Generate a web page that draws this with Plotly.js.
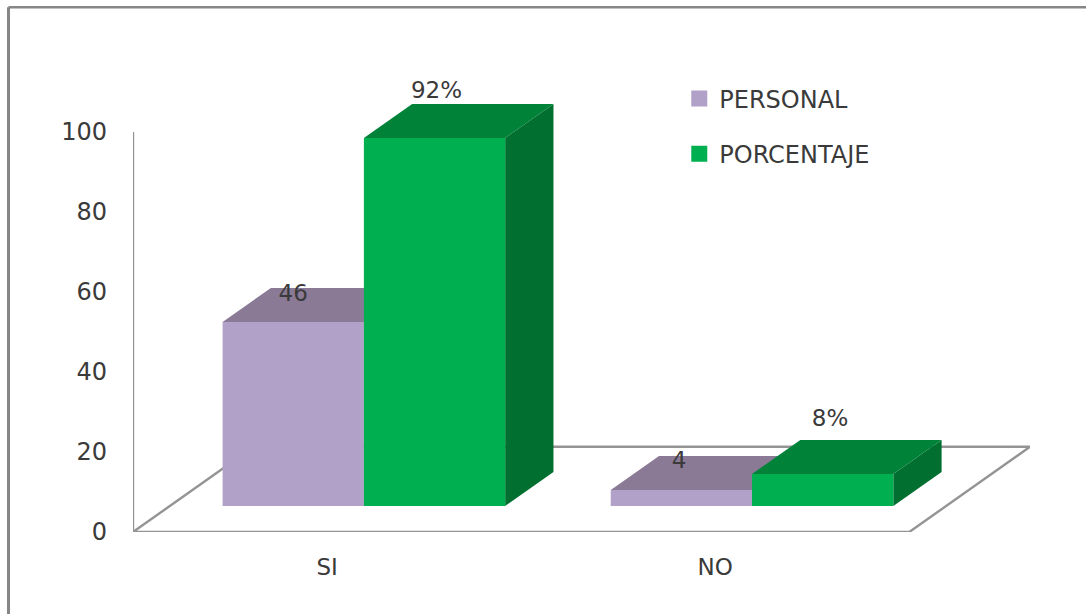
<!DOCTYPE html>
<html>
<head>
<meta charset="utf-8">
<script src="https://cdn.plot.ly/plotly-3.0.1.min.js"></script>
<style>html,body{margin:0;padding:0;background:#fff}</style>
</head>
<body>
<div id="chart" style="width:1086px;height:614px"></div>
<script>
// Survey results: head count and share for each answer
const categories = ['SI', 'NO'];
const categoryPositions = [0, 1];
const personal = [46, 4];
const porcentaje = [92, 8];
const yTicks = [0, 20, 40, 60, 80, 100];

const purple = {front: '#B1A0C7', top: '#8A7A96', side: '#776880'};
const green = {front: '#00B050', top: '#008239', side: '#006F2F'};
const textColor = '#3A3A3A';
const fontFamily = '"DejaVu Sans", sans-serif';

// Oblique projection: a point at depth d (0 front, 1 back of the floor)
// is shifted right and up from its position on the front plane.
const depthX = 0.311;
const depthY = 21.3;
const barDepthStart = 0.305;
const barDepthEnd = 0.705;
const barWidth = 0.364;
const project = (x, v, d) => [x + d * depthX, v + d * depthY];

function polygons(points) {
  const xs = [], ys = [];
  points.forEach(poly => {
    poly.forEach(p => { xs.push(p[0]); ys.push(p[1]); });
    xs.push(poly[0][0], null);
    ys.push(poly[0][1], null);
  });
  return {x: xs, y: ys};
}

function face(poly, color, z) {
  return Object.assign(polygons(poly), {
    type: 'scatter', mode: 'lines', fill: 'toself', fillcolor: color,
    line: {width: 0, color: color}, hoverinfo: 'skip', showlegend: false,
    xaxis: 'x', yaxis: 'y', zorder: z
  });
}

// One series: hidden depth faces first, the bar's front on top of them
function seriesTraces(values, side, colors, z) {
  const left = categoryPositions.map(c => c + (side === 0 ? -barWidth : 0));
  const tops = [], sides = [];
  values.forEach((v, i) => {
    const x0 = left[i], x1 = x0 + barWidth;
    tops.push([project(x0, v, barDepthEnd), project(x1, v, barDepthEnd),
               project(x1, v, barDepthStart), project(x0, v, barDepthStart)]);
    sides.push([project(x1, 0, barDepthStart), project(x1, 0, barDepthEnd),
                project(x1, v, barDepthEnd), project(x1, v, barDepthStart)]);
  });
  const shift = barDepthStart * depthY;
  return [
    face(sides, colors.side, z),
    face(tops, colors.top, z),
    {
      type: 'bar', x: left.map(l => l + barDepthStart * depthX), y: values,
      base: values.map(() => shift), width: values.map(() => barWidth),
      offset: values.map(() => 0), marker: {color: colors.front, line: {width: 0}},
      hoverinfo: 'skip', showlegend: false, zorder: z + 1
    }
  ];
}

// Floor outline and vertical axis
const floorX = [-0.5, -0.5 + depthX, 1.5 + depthX, 1.5, -0.5];
const floorY = [0, depthY, depthY, 0, 0];
const lineStyle = {color: '#949494', width: 2.4};
const floor = {
  type: 'scatter', mode: 'lines', x: floorX, y: floorY,
  line: lineStyle, hoverinfo: 'skip', showlegend: false, zorder: 0, cliponaxis: false
};
const axisLine = {
  type: 'scatter', mode: 'lines', x: [-0.5, -0.5], y: [0, yTicks[yTicks.length - 1]],
  line: lineStyle, hoverinfo: 'skip', showlegend: false, zorder: 0, cliponaxis: false
};

// Value labels sit a little above each bar's front top edge
const labelShiftX = [[0, -0.006], [0.005, 0.019]];
const labelShiftY = [[6.7, 7.0], [11.5, 13.5]];
function labels(values, series, suffix) {
  const xs = values.map((v, i) => project(categoryPositions[i] + (series === 0 ? -barWidth / 2 : barWidth / 2), v, barDepthStart)[0] + labelShiftX[series][i]);
  const ys = values.map((v, i) => project(0, v, barDepthStart)[1] + labelShiftY[series][i]);
  return {
    type: 'scatter', mode: 'text', x: xs, y: ys, text: values.map(v => v + suffix),
    textposition: 'middle center', textfont: {family: fontFamily, size: 23, color: textColor},
    hoverinfo: 'skip', showlegend: false, zorder: 9, cliponaxis: false
  };
}

function legendEntry(name, color) {
  return {
    type: 'scatter', mode: 'markers', x: [null], y: [null], name: name, legendgroup: name,
    marker: {symbol: 'square', size: 16, color: color}, hoverinfo: 'skip'
  };
}

const traces = [
  floor, axisLine,
  ...seriesTraces(personal, 0, purple, 1),
  ...seriesTraces(porcentaje, 1, green, 3),
  labels(personal, 0, ''),
  labels(porcentaje, 1, '%'),
  legendEntry('PERSONAL', purple.front),
  legendEntry('PORCENTAJE', green.front)
];

const layout = {
  width: 1086, height: 614,
  margin: {l: 133, r: 56, t: 60, b: 82, pad: 0},
  paper_bgcolor: '#fff', plot_bgcolor: 'rgba(0,0,0,0)',
  barmode: 'overlay',
  font: {family: fontFamily, size: 23, color: textColor},
  xaxis: {
    range: [-0.5, 1.5 + depthX], tickmode: 'array', tickvals: categoryPositions, ticktext: categories,
    showgrid: false, zeroline: false, showline: false, ticks: '', ticklabelstandoff: 19,
    tickfont: {family: fontFamily, size: 23, color: textColor}, fixedrange: true
  },
  yaxis: {
    range: [0, 118], tickmode: 'array', tickvals: yTicks, ticktext: yTicks.map(String),
    showgrid: false, zeroline: false, showline: false, ticks: '', ticklabelstandoff: 25,
    tickfont: {family: fontFamily, size: 24, color: textColor}, fixedrange: true
  },
  showlegend: true,
  legend: {
    x: 0.609, y: 0.965, xanchor: 'left', yanchor: 'top', bgcolor: 'rgba(0,0,0,0)',
    traceorder: 'grouped', tracegroupgap: 21, itemsizing: 'trace', itemwidth: 30,
    font: {family: fontFamily, size: 24, color: textColor}
  },
  shapes: [
    {type: 'line', xref: 'paper', yref: 'paper', x0: -124.5 / 897, x1: -124.5 / 897, y0: -82 / 472, y1: (472 + 52.7) / 472,
     line: {color: '#868686', width: 3}},
    {type: 'line', xref: 'paper', yref: 'paper', x0: -124.5 / 897, x1: (897 + 56) / 897, y0: 525 / 472 - 0.0006, y1: 525 / 472 - 0.0006,
     line: {color: '#868686', width: 2.6}}
  ]
};

Plotly.newPlot('chart', traces, layout, {displayModeBar: false, staticPlot: true});
</script>
</body>
</html>
